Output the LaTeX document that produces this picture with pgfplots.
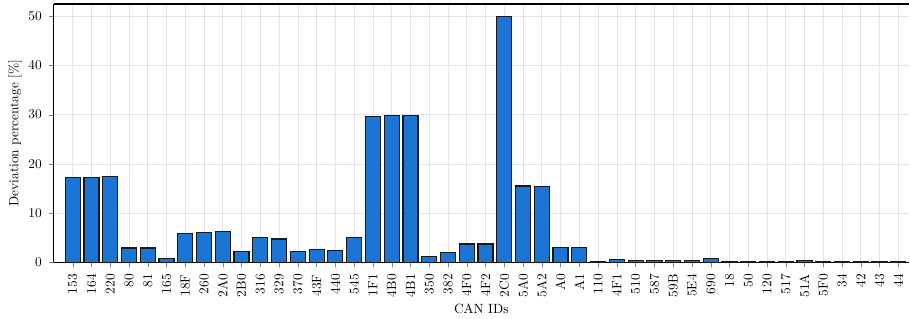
\documentclass[border=0pt]{standalone}
\usepackage{pgfplots}
\pgfplotsset{compat=1.18}
\definecolor{barblue}{RGB}{28,117,212}
\begin{document}
\begin{tikzpicture}
\begin{axis}[
  scale only axis,
  width=639pt, height=193pt,
  xmin=-1, xmax=44.55,
  ymin=0, ymax=52.5,
  axis y line*=left,
  ytick={0,10,20,30,40,50},
  xtick={0,...,44},
  xticklabels={153,164,220,80,81,165,18F,260,2A0,2B0,316,329,370,43F,440,545,1F1,4B0,4B1,350,382,4F0,4F2,2C0,5A0,5A2,A0,A1,110,4F1,510,587,59B,5E4,690,18,50,120,517,51A,5F0,34,42,43,44},
  xticklabel style={rotate=90, anchor=east},
  xticklabel shift=2pt,
  yticklabel shift=2pt,
  tick align=outside,
  tick pos=left,
  major tick length=3.5pt,
  grid=major,
  grid style={black!10, line width=0.5pt},
  axis line style={black, line width=0.8pt},
  ylabel={Deviation percentage [\%]},
  xlabel={CAN IDs},
  xlabel style={yshift=2pt},
  ylabel style={at={(axis description cs:-0.0455,0.5)}, anchor=center},
]
\addplot[ybar, bar width=0.8, fill=barblue, draw=black!90, line width=0.9pt] coordinates {
(0,17.3) (1,17.3) (2,17.35) (3,2.9) (4,2.9) (5,0.8) (6,5.8) (7,6.1) (8,6.3) (9,2.2)
(10,5.1) (11,4.7) (12,2.1) (13,2.6) (14,2.4) (15,5.0) (16,29.6) (17,29.8) (18,29.8) (19,1.2)
(20,2.0) (21,3.7) (22,3.7) (23,50.0) (24,15.5) (25,15.4) (26,3.0) (27,3.0) (28,0.05) (29,0.5)
(30,0.3) (31,0.3) (32,0.4) (33,0.4) (34,0.8) (35,0.2) (36,0.2) (37,0.1) (38,0.2) (39,0.3)
(40,0.2) (41,0.1) (42,0.1) (43,0.1) (44,0.1)
};
\end{axis}
\path ([yshift=3pt]current axis.north);
\path ([xshift=-40.3pt]current axis.south west);
\path ([xshift=1pt]current axis.south east);
\end{tikzpicture}
\end{document}
